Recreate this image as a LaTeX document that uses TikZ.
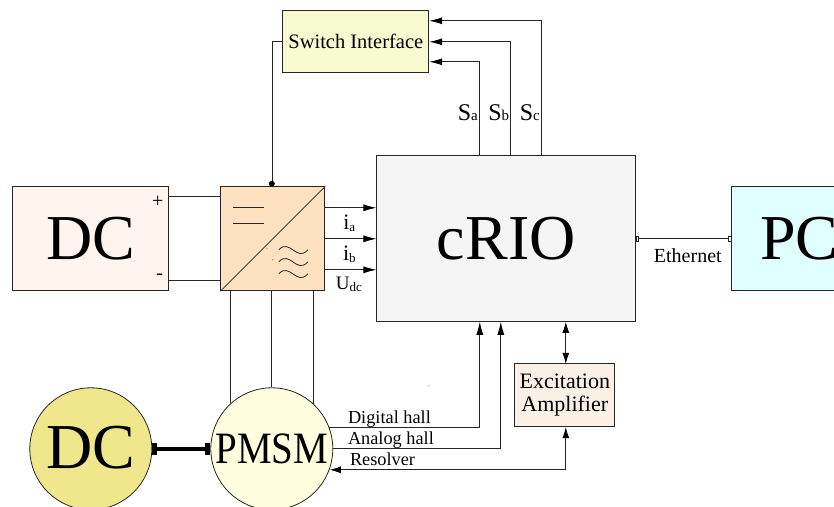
\documentclass[tikz,border=0pt]{standalone}
\usepackage{fontspec}
\setmainfont{Liberation Serif}
\usetikzlibrary{arrows.meta}
\definecolor{swifcol}{HTML}{F8FBD2}
\definecolor{dccol}{HTML}{FFF5EE}
\definecolor{convcol}{HTML}{FDE1C0}
\definecolor{pccol}{HTML}{E0FFFF}
\definecolor{exccol}{HTML}{FBF0E6}
\definecolor{motorcol}{HTML}{F0E68C}
\definecolor{pmsmcol}{HTML}{FFFFE0}
\tikzset{
	block/.style={draw=black!85, line width=0.8pt, minimum width=#1, inner sep=0pt},
	disc/.style={circle, draw=black!85, line width=0.8pt, minimum size=122pt, inner sep=0pt},
	sig/.style={draw=black!85, line width=0.8pt},
	sigto/.style={sig, -{Latex[black,length=13pt,width=7pt]}},
	sigboth/.style={sig, {Latex[black,length=11pt,width=7pt]}-{Latex[black,length=11pt,width=7pt]}},
	lab/.style={inner sep=0pt, font=\fontsize{18.3}{18.3}\selectfont},
	bigtxt/.style={font=\fontsize{64}{64}\selectfont}
}
\newcommand{\sublet}[2]{{\fontsize{24}{24}\selectfont #1}{\fontsize{15}{15}\selectfont #2}}
\newcommand{\lowlet}[3]{{\fontsize{#3}{#3}\selectfont #1}{\fontsize{13}{13}\selectfont\raisebox{-2pt}{#2}}}
\begin{document}
\begin{tikzpicture}[x=1pt, y=-1pt]
		%%%%% START %%%%%
		\useasboundingbox (0.2, 0.2) rectangle (834.2, 506.2);
		
		\node[block=146pt, minimum height=62pt, fill=swifcol, font=\fontsize{20.5}{20.5}\selectfont] (swif) at (356, 42) {Switch Interface};
		\node[block=156pt, minimum height=104pt, fill=dccol, bigtxt] (dcsrc) at (91, 239) {DC};
		\node[block=104pt, minimum height=104pt, fill=convcol] (conv) at (273, 239) {};
		\node[block=259pt, minimum height=166pt, fill=black!4, bigtxt] (crio) at (506.5, 239) {cRIO};
		\node[block=156pt, minimum height=104pt, fill=pccol, bigtxt, text width=150pt, align=left] (pc) at (810, 239) {\hspace{25.5pt}PC};
		\node[block=100pt, minimum height=63pt, fill=exccol, align=center, font=\fontsize{22}{23}\selectfont] (exc) at (565, 395.5) {\raisebox{-1pt}{Excitation}\\\raisebox{-1pt}{Amplifier}};
		\node[disc, fill=motorcol, bigtxt] (dcm) at (91, 449) {\raisebox{2pt}{DC}};
		\node[disc, fill=pmsmcol, font=\fontsize{39}{39}\selectfont] (pmsm) at (272, 449) {\scalebox{1}[1.15]{PMSM}};
		
		% converter symbol
		\draw[sig] (conv.south west) -- (conv.north east);
		\draw[sig] (233, 208) -- (264, 208);
		\draw[sig] (233, 224) -- (264, 224);
		\foreach \wy in {250, 262, 274}
			\draw[sig] (279, \wy) .. controls (290, \wy-12) and (297, \wy+13) .. (308, \wy);
		\fill[black!70] (267, 249) circle (0.5);
		\fill[black!70] (273, 260) circle (0.6);
		\fill[black!70] (429, 386) circle (0.5);
		
		% supply and gate lines
		\node[lab, font=\fontsize{20}{20}\selectfont] (plus) at (158, 202) {+};
		\node[lab, font=\fontsize{20}{20}\selectfont] (minus) at (160, 277) {-};
		\coordinate (dcp) at (169, 197);
		\coordinate (dcn) at (169, 281);
		\draw[sig] (dcp) -- (dcp -| conv.west);
		\draw[sig] (dcn) -- (dcn -| conv.west);
		\draw[sig] (swif.west) -| (conv.north);
		\fill[black] (272, 184) circle (3);
		
		% phases
		\draw[sig] (pmsm.132 |- conv.south) -- (pmsm.132);
		\draw[sig] (pmsm.north |- conv.south) -- (pmsm.north);
		\draw[sig] (pmsm.47 |- conv.south) -- (pmsm.47);
		
		% measurements
		\foreach \my/\mname in {208/ia, 239/ib, 270/ud} {
			\coordinate (\mname) at (325, \my);
			\draw[sigto] (\mname) -- (\mname -| crio.west);
		}
		\node[inner sep=0pt] (ialab) at (349.5, 223) {\lowlet{i}{a}{22}};
		\node[inner sep=0pt] (iblab) at (349.5, 254) {\lowlet{i}{b}{22}};
		\node[inner sep=0pt] (udlab) at (349, 285) {\lowlet{U}{dc}{19}};
		
		% gate signals
		\foreach \sx/\sy/\sname in {480/62/a, 511/42/b, 542/21/c} {
			\coordinate (s\sname) at (\sx, 156);
			\draw[sigto] (s\sname) |- (swif.east |- 0, \sy);
		}
		\node[inner sep=0pt] (salab) at (468, 113) {\sublet{S}{a}};
		\node[inner sep=0pt] (sblab) at (499, 113) {\sublet{S}{b}};
		\node[inner sep=0pt] (sclab) at (530, 113) {\sublet{S}{c}};
		
		% ethernet
		\draw[sig, {Square[open,length=3pt,width=5pt]}-{Square[open,length=3pt,width=5pt]}] (crio.east) -- (pc.west);
		\node[lab, font=\fontsize{20}{20}\selectfont] (ethlab) at (688, 256) {Ethernet};
		
		% shaft
		\draw[line width=4pt, {Square[length=5pt,width=12pt]}-{Square[length=5pt,width=12pt]}] (dcm.east) -- (pmsm.west);
		
		% position sensors
		\coordinate (dighall) at (329, 428);
		\coordinate (anahall) at (333, 449);
		\coordinate (resolv) at (330, 470);
		\draw[sigto] (dighall) -| (480, 322);
		\draw[sigto] (anahall) -| (501, 322);
		\draw[sigboth] (exc.south -| 566, 0) |- (resolv);
		\draw[sigboth] (566, 322) -- (566, 364);
		\node[lab, anchor=base west] (diglab) at (348, 424) {Digital hall};
		\node[lab, anchor=base west] (analab) at (348, 445) {Analog hall};
		\node[lab, anchor=base west] (reslab) at (350, 466) {Resolver};
		
		%%%%% END %%%%%
	\end{tikzpicture}
\end{document}
